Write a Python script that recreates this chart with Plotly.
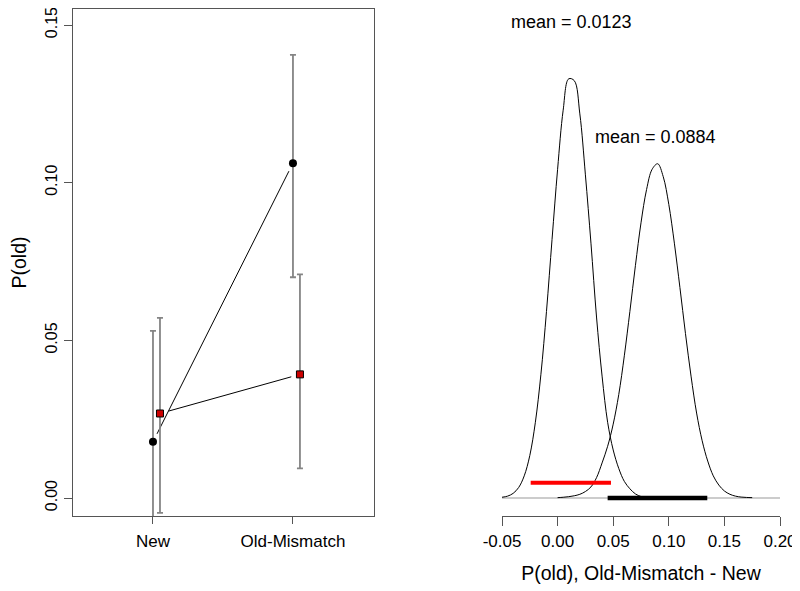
import math

import numpy as np
import plotly.graph_objects as go

# the page puts the figure 8px in from the top-left corner
PAGE_PAD = 8
W, H = 800 - PAGE_PAD, 591 - PAGE_PAD
FONT = "Liberation Sans, Arial, sans-serif"

# left panel: P(old) per condition, two groups (black circles / red squares)
conditions = ["New", "Old-Mismatch"]
cond_pos = [1, 2]
black_mean = [0.0178, 0.1062]
black_upper = [0.0530, 0.1405]
black_lower = [-0.0170, 0.0700]
red_mean = [0.0268, 0.0392]
red_upper = [0.0571, 0.0709]
red_lower = [-0.0047, 0.0094]
red_offset = 0.05
left_yticks = [0.00, 0.05, 0.10, 0.15]

# right panel: posterior densities of the Old-Mismatch - New difference
dens_a_x = [-0.050, -0.045, -0.040, -0.035, -0.030, -0.025, -0.020, -0.015, -0.010, -0.005,
            0.000, 0.005, 0.010, 0.015, 0.020, 0.025, 0.030, 0.035, 0.040, 0.045,
            0.050, 0.055, 0.060, 0.065, 0.070, 0.075, 0.080, 0.085, 0.090]
dens_a_y = [0.04, 0.10, 0.25, 0.57, 1.2, 2.3, 4.1, 6.7, 10.1, 14.0,
            17.8, 21.0, 22.7, 22.6, 20.8, 17.5, 13.8, 9.8, 6.6, 4.1,
            2.6, 1.6, 0.9, 0.5, 0.22, 0.08, 0.03, 0.01, 0.0]
dens_b_x = [0.000, 0.005, 0.010, 0.015, 0.020, 0.025, 0.030, 0.035, 0.040, 0.045,
            0.050, 0.055, 0.060, 0.065, 0.070, 0.075, 0.080, 0.085, 0.090, 0.095,
            0.100, 0.105, 0.110, 0.115, 0.120, 0.125, 0.130, 0.135, 0.140, 0.145,
            0.150, 0.155, 0.160, 0.165, 0.170, 0.175]
dens_b_y = [0.02, 0.04, 0.07, 0.12, 0.2, 0.35, 0.6, 1.1, 1.9, 2.8,
            4.0, 5.6, 7.7, 10.1, 12.6, 14.9, 16.7, 17.8, 18.1, 17.4,
            15.9, 13.8, 11.4, 8.9, 6.6, 4.6, 3.1, 2.0, 1.2, 0.7,
            0.38, 0.2, 0.1, 0.05, 0.03, 0.02]
means = [0.0123, 0.0884]
mean_label_y = [25.8, 19.55]
hdi_a = [-0.0242, 0.0480]
hdi_a_level = 0.83
hdi_b = [0.0450, 0.1346]
hdi_b_level = 0.0
baseline_x = [-0.05, 0.20]
right_xticks = [-0.05, 0.00, 0.05, 0.10, 0.15, 0.20]
right_xticktext = ["-0.05", "0.00", "0.05", "0.10", "0.15", "0.20"]

# plot-area geometry (screen pixels)
L_X0, L_X1 = 73, 374
R_X0, R_X1 = 502, 780
Y_TOP, Y_BOT = 9, 516
left_xrange = [0.4286, 2.579]
left_yrange = [-0.00571, 0.15508]
right_yrange = [-0.975, 26.48]


def _xdom(a, b):
    return [(a - PAGE_PAD) / W, (b - PAGE_PAD) / W]


def _ydom(top, bot):
    return [max(0.0, (H - (bot - PAGE_PAD)) / H), min(1.0, (H - (top - PAGE_PAD)) / H)]


def _gap_segment(x0, y0, x1, y1, gap_px):
    # R type="b": the connecting line stops short of each point
    px_x = (L_X1 - L_X0) / (left_xrange[1] - left_xrange[0])
    px_y = (Y_BOT - Y_TOP) / (left_yrange[1] - left_yrange[0])
    length = math.hypot((x1 - x0) * px_x, (y1 - y0) * px_y)
    f = gap_px / length
    return ([x0 + (x1 - x0) * f, x1 - (x1 - x0) * f],
            [y0 + (y1 - y0) * f, y1 - (y1 - y0) * f])


fig = go.Figure()

black_x = list(cond_pos)
red_x = [p + red_offset for p in cond_pos]

for xs, ys in ((black_x, black_mean), (red_x, red_mean)):
    sx, sy = _gap_segment(xs[0], ys[0], xs[1], ys[1], 9)
    fig.add_trace(go.Scatter(x=sx, y=sy, mode="lines", line=dict(color="black", width=1),
                             xaxis="x", yaxis="y", hoverinfo="skip"))

err_style = dict(type="data", symmetric=False, color="#858585", thickness=1.8, width=3)
fig.add_trace(go.Scatter(
    x=black_x, y=black_mean, mode="markers",
    marker=dict(symbol="circle", size=8, color="black"),
    error_y=dict(array=np.subtract(black_upper, black_mean),
                 arrayminus=np.subtract(black_mean, black_lower), **err_style),
    xaxis="x", yaxis="y",
))
fig.add_trace(go.Scatter(
    x=red_x, y=red_mean, mode="markers",
    marker=dict(symbol="square", size=7, color="#cc0000", line=dict(color="black", width=1)),
    error_y=dict(array=np.subtract(red_upper, red_mean),
                 arrayminus=np.subtract(red_mean, red_lower), **err_style),
    xaxis="x", yaxis="y",
))

# right panel
fig.add_trace(go.Scatter(x=baseline_x, y=[0, 0], mode="lines",
                         line=dict(color="#999999", width=1), xaxis="x2", yaxis="y2"))
for dx, dy in ((dens_a_x, dens_a_y), (dens_b_x, dens_b_y)):
    fig.add_trace(go.Scatter(x=dx, y=dy, mode="lines",
                             line=dict(color="black", width=1, shape="spline"),
                             xaxis="x2", yaxis="y2"))
fig.add_trace(go.Scatter(x=hdi_a, y=[hdi_a_level] * 2, mode="lines",
                         line=dict(color="#ff0000", width=4), xaxis="x2", yaxis="y2"))
fig.add_trace(go.Scatter(x=hdi_b, y=[hdi_b_level] * 2, mode="lines",
                         line=dict(color="black", width=4.5), xaxis="x2", yaxis="y2"))

for m, ly in zip(means, mean_label_y):
    fig.add_annotation(x=m, y=ly, xref="x2", yref="y2", text=f"mean = {m:.4f}",
                       showarrow=False, font=dict(size=18, color="black", family=FONT))

axis_line = "#555555"
tick_font = dict(size=17, color="black", family=FONT)
ytick_font = dict(size=16, color="black", family=FONT)
title_font = dict(size=19.5, color="black", family=FONT)

fig.update_layout(
    width=W,
    height=H,
    autosize=False,
    margin=dict(l=0, r=0, t=0, b=0),
    paper_bgcolor="white",
    plot_bgcolor="white",
    showlegend=False,
    font=dict(family=FONT, color="black"),
    xaxis=dict(
        domain=_xdom(L_X0, L_X1), range=left_xrange, anchor="y", automargin=False,
        tickvals=cond_pos, ticktext=conditions, ticks="outside", ticklen=7,
        tickcolor=axis_line, tickfont=tick_font, ticklabelstandoff=3,
        showline=True, linecolor=axis_line, linewidth=1, mirror=True,
        showgrid=False, zeroline=False,
    ),
    yaxis=dict(
        domain=_ydom(Y_TOP, Y_BOT), range=left_yrange, anchor="x", automargin=False,
        tickvals=left_yticks, tickformat=".2f", tickangle=-90, ticks="outside", ticklen=8,
        tickcolor=axis_line, tickfont=ytick_font, ticklabelstandoff=1,
        ticklabeloverflow="allow",
        showline=True, linecolor=axis_line, linewidth=1, mirror=True,
        showgrid=False, zeroline=False,
        title=dict(text="P(old)", font=title_font, standoff=20),
    ),
    xaxis2=dict(
        domain=_xdom(R_X0, R_X1), range=[baseline_x[0], baseline_x[1]], anchor="y2",
        automargin=False,
        tickvals=right_xticks, ticktext=right_xticktext, ticks="outside", ticklen=9,
        tickcolor=axis_line, tickfont=tick_font, ticklabelstandoff=1,
        ticklabeloverflow="allow",
        showline=True, linecolor=axis_line, linewidth=1,
        showgrid=False, zeroline=False,
        title=dict(text="P(old), Old-Mismatch - New", font=title_font, standoff=15),
    ),
    yaxis2=dict(
        domain=_ydom(Y_TOP, Y_BOT), range=right_yrange, anchor="x2",
        visible=False,
    ),
)

fig.write_html("out.html")
